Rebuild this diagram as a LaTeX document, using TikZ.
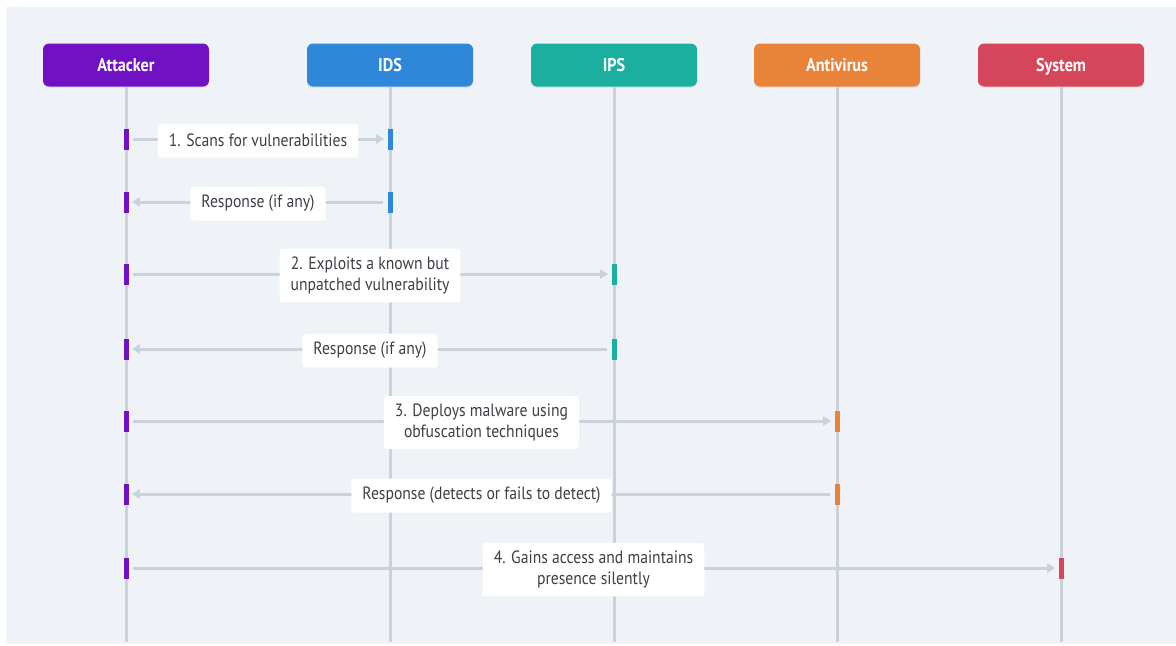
\documentclass[tikz,border=0pt]{standalone}
\usepackage{fontspec}
\setmainfont{PT Sans}[FakeStretch=0.88]
\usetikzlibrary{arrows.meta,shadows}

\definecolor{bgc}{HTML}{EFF3F7}
\definecolor{life}{HTML}{C9D2DB}
\definecolor{txt}{HTML}{3B4047}
\definecolor{cAtt}{HTML}{7011C4}
\definecolor{cIds}{HTML}{2F87D9}
\definecolor{cIps}{HTML}{1BAF9F}
\definecolor{cAv}{HTML}{EA833A}
\definecolor{cSys}{HTML}{D5465B}

\tikzset{
  actor/.style={fill=#1, rounded corners=3pt, minimum width=83pt, minimum height=21.5pt,
    text=white, font=\fontsize{9.2}{11}\selectfont\bfseries, text height=6.8pt, text depth=0.3pt,
    drop shadow={opacity=0.12, shadow xshift=0pt, shadow yshift=-0.8pt}},
  lifeline/.style={draw=life, line width=1.5pt},
  bar/.style={fill=#1, minimum width=2.5pt, minimum height=10.5pt, inner sep=0pt},
  msg/.style={draw=life, line width=1.5pt, -{Triangle[width=4.5pt,length=4pt]},
    shorten <=2pt, shorten >=1.5pt},
  lbl/.style={fill=white, rounded corners=1.5pt, text=txt, align=center,
    font=\fontsize{8.9}{10.5}\selectfont, minimum height=17pt,
    inner xsep=5.5pt, inner ysep=4pt, yshift=-0.8pt}
}

\begin{document}
\begin{tikzpicture}[x=0.5pt,y=-0.5pt]
\fill[white] (0,0) rectangle (1176,645);
\fill[bgc] (6,7) rectangle (1176,644);
\useasboundingbox (0,0) rectangle (1176,645);

% actors
\node[actor=cAtt] (attacker) at (126,65) {Attacker};
\node[actor=cIds] (ids) at (390,65) {IDS};
\node[actor=cIps] (ips) at (614,65) {IPS};
\node[actor=cAv] (av) at (837,65) {Antivirus};
\node[actor=cSys] (sys) at (1061,65) {System};

\coordinate (attacker-end) at (126,642);
\coordinate (ids-end) at (390,642);
\coordinate (ips-end) at (614,642);
\coordinate (av-end) at (837,642);
\coordinate (sys-end) at (1061,642);

\draw[lifeline] (attacker.south) -- (attacker-end); \draw[lifeline] (ids.south) -- (ids-end); \draw[lifeline] (ips.south) -- (ips-end); \draw[lifeline] (av.south) -- (av-end); \draw[lifeline] (sys.south) -- (sys-end);

% activation bars
\node[bar=cAtt] (a1) at (126,139) {}; \node[bar=cIds] (d1) at (390,139) {};
\node[bar=cAtt] (a2) at (126,202) {}; \node[bar=cIds] (d2) at (390,202) {};
\node[bar=cAtt] (a3) at (126,274) {}; \node[bar=cIps] (p3) at (614,274) {};
\node[bar=cAtt] (a4) at (126,349) {}; \node[bar=cIps] (p4) at (614,349) {};
\node[bar=cAtt] (a5) at (126,421) {}; \node[bar=cAv] (v5) at (837,421) {};
\node[bar=cAtt] (a6) at (126,494) {}; \node[bar=cAv] (v6) at (837,494) {};
\node[bar=cAtt] (a7) at (126,568) {}; \node[bar=cSys] (s7) at (1061,568) {};

% messages
\draw[msg] (a1) -- node[lbl] {1. Scans for vulnerabilities} (d1);
\draw[msg] (d2) -- node[lbl] {Response (if any)} (a2);
\draw[msg] (a3) -- node[lbl] {2. Exploits a known but\\unpatched vulnerability} (p3);
\draw[msg] (p4) -- node[lbl] {Response (if any)} (a4);
\draw[msg] (a5) -- node[lbl] {3. Deploys malware using\\obfuscation techniques} (v5);
\draw[msg] (v6) -- node[lbl] {Response (detects or fails to detect)} (a6);
\draw[msg] (a7) -- node[lbl] {4. Gains access and maintains\\presence silently} (s7);
\end{tikzpicture}
\end{document}
